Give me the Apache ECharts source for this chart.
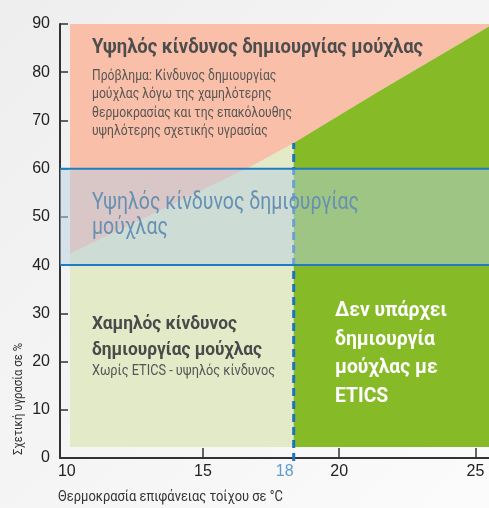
<!DOCTYPE html>
<html lang="el">
<head>
  <meta charset="UTF-8">
  <title>Κίνδυνος μούχλας</title>
  <script src="https://cdn.jsdelivr.net/npm/echarts@6/dist/echarts.min.js"></script>
</head>
<body style="margin:0">
  <div id="main" style="width:489px;height:508px;"></div>
  <script type="text/javascript">
    var myChart = echarts.init(document.getElementById('main'));

    // άξονες
    const xMin = 9.75, xMax = 25.5;
    const xLabelValues = [10, 15, 18, 20, 25];
    const xTickValues = [15, 20, 25];
    const yMin = 0, yMax = 90, yStep = 10;

    // πλαίσιο περιοχών (θερμοκρασία / υγρασία)
    const panelX = [10.12, 25.5];
    const panelY = [2.3, 90];

    // όριο δημιουργίας μούχλας
    const curveT = [10.12, 13, 16.8, 18.33, 21.45, 25.5];
    const curveRH = [42.4, 50.2, 60.6, 65.3, 76, 89.5];

    // θερμοκρασία τοίχου με ETICS
    const eticsT = 18.33;
    const eticsLabel = '18';

    // ζώνη υγρασίας
    const bandRH = [40, 60];

    const FONT = 'Roboto, "Noto Sans", sans-serif';
    const AXISFONT = '"Liberation Sans", Arial, sans-serif';

    function poly(api, pts, style) {
      return {
        type: 'polygon',
        shape: { points: pts.map(p => api.coord(p)) },
        style: style
      };
    }

    function seg(api, a, b, style) {
      const p = api.coord(a), q = api.coord(b);
      return { type: 'line', shape: { x1: p[0], y1: p[1], x2: q[0], y2: q[1] }, style: style };
    }

    function shapeSeries(z, build) {
      return {
        type: 'custom',
        z: z,
        silent: true,
        data: [[0]],
        renderItem: function (params, api) { return build(api); }
      };
    }

    const curvePts = curveT.map((t, i) => [t, curveRH[i]]);
    const eticsRH = curveRH[curveT.indexOf(eticsT)];

    const series = [
      // ανοιχτό πράσινο φόντο
      shapeSeries(1, api => poly(api, [
        [panelX[0], panelY[0]], [panelX[1], panelY[0]],
        [panelX[1], panelY[1]], [panelX[0], panelY[1]]
      ], { fill: '#e2eac8' })),
      // υψηλός κίνδυνος (σομόν)
      shapeSeries(2, api => poly(api,
        [[panelX[0], panelY[1]], [panelX[1], panelY[1]]].concat(curvePts.slice().reverse()),
        { fill: '#f9bfa8' })),
      // χωρίς μούχλα με ETICS (πράσινο)
      shapeSeries(3, api => poly(api,
        [[eticsT, panelY[0]], [panelX[1], panelY[0]]]
          .concat(curvePts.filter(p => p[0] >= eticsT).reverse()),
        { fill: '#86bb27' })),
      // διακεκομμένη γραμμή 18 °C
      shapeSeries(4, api => {
        const el = seg(api, [eticsT, yMin], [eticsT, eticsRH],
          { stroke: '#1a73bf', lineWidth: 3, lineDash: [8, 5] });
        el.shape.y1 += 3;
        return el;
      }),
      // ζώνη 40-60 %
      shapeSeries(5, api => ({
        type: 'group',
        children: [
          poly(api, [[xMin, bandRH[0]], [xMax, bandRH[0]], [xMax, bandRH[1]], [xMin, bandRH[1]]],
            { fill: 'rgba(184,207,227,0.5)' }),
          seg(api, [xMin, bandRH[0]], [xMax, bandRH[0]], { stroke: '#1f7bc2', lineWidth: 2 }),
          seg(api, [xMin, bandRH[1]], [xMax, bandRH[1]], { stroke: '#1f7bc2', lineWidth: 2 })
        ]
      }))
    ];

    // στενεύει το κείμενο ώστε η μεγαλύτερη γραμμή να έχει το πλάτος του πρωτοτύπου
    const measureCtx = document.createElement('canvas').getContext('2d');
    function squeeze(text, size, weight, width) {
      measureCtx.font = (weight || 'normal') + ' ' + size + 'px ' + FONT;
      const w = Math.max.apply(null, text.split('\n').map(s => measureCtx.measureText(s).width));
      return Math.min(1, width / w);
    }

    function txt(x, y, text, size, color, weight, lineHeight, width) {
      return {
        type: 'text',
        x: x,
        y: y,
        z: 100,
        silent: true,
        scaleX: squeeze(text, size, weight, width),
        style: {
          text: text,
          fill: color,
          fontSize: size,
          fontWeight: weight || 'normal',
          fontFamily: FONT,
          lineHeight: lineHeight || size * 1.2,
          align: 'left',
          verticalAlign: 'top'
        }
      };
    }

    const yTitle = 'Σχετική υγρασία σε %';

    const option = {
      animation: false,
      backgroundColor: new echarts.graphic.LinearGradient(0, 0, 1, 1, [
        { offset: 0, color: '#eeeeee' },
        { offset: 1, color: '#fbfbfb' }
      ]),
      grid: { left: 60, right: 0, top: 24, bottom: 50 },
      xAxis: {
        type: 'value',
        min: xMin,
        max: xMax,
        splitLine: { show: false },
        axisLine: { lineStyle: { color: '#333', width: 2 } },
        axisTick: {
          inside: true,
          length: 10,
          customValues: xTickValues,
          lineStyle: { color: '#333', width: 1.5 }
        },
        axisLabel: {
          customValues: xLabelValues,
          margin: 6,
          fontSize: 16,
          color: '#222',
          fontFamily: AXISFONT,
          formatter: function (v) {
            return String(v) === eticsLabel ? '{b|' + v + '}' : String(v);
          },
          rich: {
            b: { fontSize: 16, color: '#5e9bcf', fontFamily: AXISFONT }
          }
        }
      },
      yAxis: {
        type: 'value',
        min: yMin,
        max: yMax,
        interval: yStep,
        splitLine: { show: false },
        axisLine: { show: true, onZero: false, lineStyle: { color: '#333', width: 2 } },
        axisTick: { show: true, inside: true, length: 8, lineStyle: { color: '#333', width: 1.5 } },
        axisLabel: {
          margin: 10,
          fontSize: 16,
          color: '#222',
          fontFamily: AXISFONT
        }
      },
      series: series,
      graphic: [
        txt(92, 36, 'Υψηλός κίνδυνος δημιουργίας μούχλας', 20, '#4d4d4d', 'bold', 24, 331),
        txt(92, 67, 'Πρόβλημα: Κίνδυνος δημιουργίας\nμούχλας λόγω της χαμηλότερης\nθερμοκρασίας και της επακόλουθης\nυψηλότερης σχετικής υγρασίας',
          14, '#555', 'normal', 18.5, 200),
        txt(92, 191, 'Υψηλός κίνδυνος δημιουργίας\nμούχλας', 23, '#6790b2', 'normal', 25, 267),
        txt(92, 311, 'Χαμηλός κίνδυνος\nδημιουργίας μούχλας', 19, '#4a4a4a', 'bold', 26, 170),
        txt(92, 363, 'Χωρίς ETICS - υψηλός κίνδυνος', 14, '#555', 'normal', 17, 183),
        txt(335, 297, 'Δεν υπάρχει\nδημιουργία\nμούχλας με\nETICS', 20, '#ffffff', 'bold', 28.5, 112),
        txt(58, 489, 'Θερμοκρασία επιφάνειας τοίχου σε °C', 14, '#333', 'normal', 17, 225),
        {
          type: 'text',
          x: 19,
          y: 399,
          rotation: Math.PI / 2,
          z: 100,
          silent: true,
          scaleX: squeeze(yTitle, 13, 'normal', 112),
          style: {
            text: yTitle,
            fill: '#333',
            fontSize: 13,
            fontFamily: FONT,
            align: 'center',
            verticalAlign: 'middle'
          }
        }
      ]
    };

    myChart.setOption(option);
  </script>
</body>
</html>
